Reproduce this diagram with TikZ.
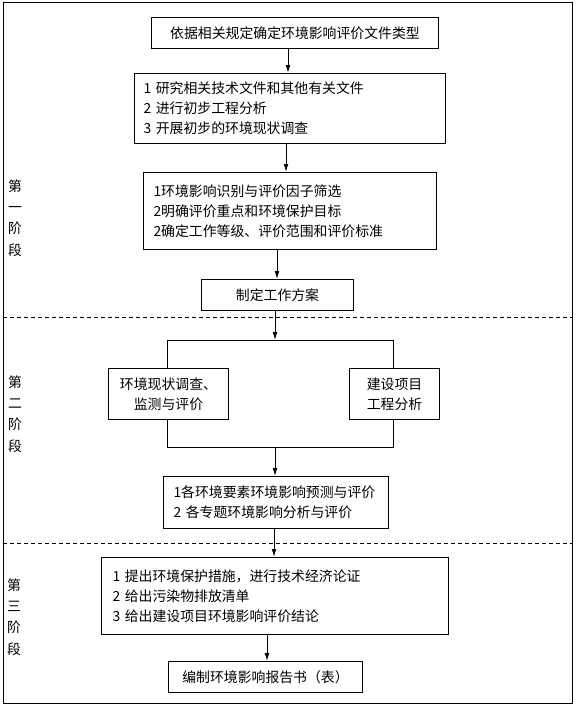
\documentclass[tikz,border=0pt]{standalone}
\usepackage{fontspec}
\setmainfont{Noto Sans CJK SC}
\usetikzlibrary{arrows.meta, positioning}
\tikzset{
    box/.style={draw, line width=0.75pt, anchor=north west, inner ysep=0pt, font=\fontsize{10.4}{15}\selectfont},
    listbox/.style={box, align=left},
    arr/.style={-{Latex[length=6pt,width=3.6pt]}, line width=0.75pt},
    stage/.style={align=center, inner sep=0pt, font=\fontsize{10.4}{16}\selectfont},
    sep/.style={line width=0.75pt, dash pattern=on 3pt off 2.25pt}
}

\begin{document}
\begin{tikzpicture}[x=0.75pt, y=-0.75pt]
    \useasboundingbox (0,0) rectangle (576,704);

    % Draw the outer frame and the stage separators
    \draw[line width=0.75pt] (3,2) rectangle (572,703);
    \draw[sep] (3,317) -- (572,317);
    \draw[sep] (3,543) -- (572,543);

    % Stage labels
    \node[stage] (stageA) at (15,218) {第\\一\\阶\\段};
    \node[stage] (stageB) at (15,414) {第\\二\\阶\\段};
    \node[stage] (stageC) at (14,617) {第\\三\\阶\\段};

    % Stage one
    \node[box, minimum width=215.25pt, minimum height=23.25pt] (filetype) at (151,17) {依据相关规定确定环境影响评价文件类型};
    \node[listbox, text width=219.75pt, inner xsep=6.75pt, minimum height=52.5pt] (study) at (134,73)
        {1 研究相关技术文件和其他有关文件\\2 进行初步工程分析\\3 开展初步的环境现状调查};
    \node[listbox, text width=204.75pt, inner xsep=7.5pt, minimum height=57.75pt] (screen) at (143,172)
        {1环境影响识别与评价因子筛选\\2明确评价重点和环境保护目标\\2确定工作等级、评价范围和评价标准};
    \node[box, minimum width=114pt, minimum height=23.25pt] (plan) at (201,279) {制定工作方案};

    % Stage two
    \node[box, align=center, minimum width=90pt, minimum height=38.25pt] (survey) at (108,368) {环境现状调查、\\监测与评价};
    \node[box, align=center, minimum width=67.5pt, minimum height=38.25pt] (project) at (349,368) {建设项目\\工程分析};
    \node[listbox, text width=153.75pt, inner xsep=7.5pt, minimum height=39pt] (predict) at (163,476)
        {1各环境要素环境影响预测与评价\\2 各专题环境影响分析与评价};

    % Stage three
    \node[listbox, text width=243.75pt, inner xsep=8.25pt, minimum height=57.75pt] (measure) at (101,557)
        {1 提出环境保护措施，进行技术经济论证\\2 给出污染物排放清单\\3 给出建设项目环境影响评价结论};
    \node[box, minimum width=145.5pt, minimum height=23.25pt] (report) at (168,661) {编制环境影响报告书（表）};

    % Split and join lines
    \coordinate (splitL) at (167,340);
    \coordinate (splitR) at (393,340);
    \coordinate (joinL) at (167,447);
    \coordinate (joinR) at (393,447);
    \draw[line width=0.75pt] (survey.north -| splitL) -- (splitL) -- (splitR) -- (project.north -| splitR);
    \draw[line width=0.75pt] (survey.south -| joinL) -- (joinL) -- (joinR) -- (project.south -| joinR);

    % Arrows
    \draw[arr] (filetype.south -| 288,0) -- (study.north -| 288,0);
    \draw[arr] (study.south -| 286,0) -- (screen.north -| 286,0);
    \draw[arr] (screen.south -| 277,0) -- (plan.north -| 277,0);
    \draw[arr] (plan.south -| 275,0) -- (splitL -| 275,0);
    \draw[arr] (joinL -| 275,0) -- (predict.north -| 275,0);
    \draw[arr] (predict.south -| 274,0) -- (measure.north -| 274,0);
    \draw[arr] (measure.south -| 267,0) -- (report.north -| 267,0);
\end{tikzpicture}
\end{document}
